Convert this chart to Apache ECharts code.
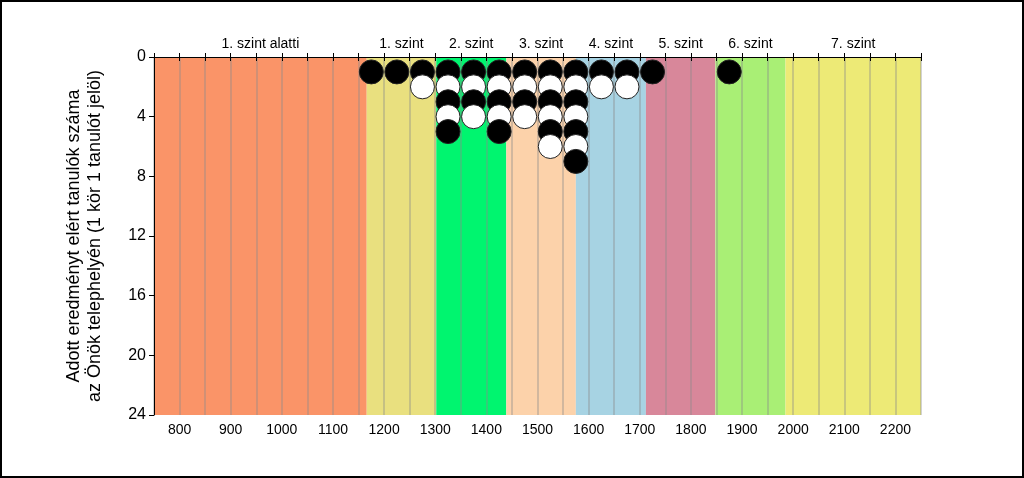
<!DOCTYPE html>
<html>
<head>
<meta charset="utf-8">
<script src="https://cdn.jsdelivr.net/npm/echarts@6/dist/echarts.min.js"></script>
<style>
  html, body { margin: 0; padding: 0; background: #fff; }
  #chart { width: 1024px; height: 478px; }
</style>
</head>
<body>
<div id="chart"></div>
<script>
// score bands (szintek)
const bandNames = ['1. szint alatti', '1. szint', '2. szint', '3. szint', '4. szint', '5. szint', '6. szint', '7. szint']
const bandEdges = [750, 1166, 1302, 1439, 1575, 1712, 1848, 1985, 2250]
const bandColors = ['#fa9468', '#e9e07f', '#00f56f', '#fcd2aa', '#a7d3e3', '#d8879a', '#a9ef75', '#edea76']

// one column of circles per score bin, count = number of students
const binCenters = [1175, 1225, 1275, 1325, 1375, 1425, 1475, 1525, 1575, 1625, 1675, 1725, 1875]
const binCounts = [1, 1, 2, 5, 4, 5, 4, 6, 7, 2, 2, 1, 1]

const bands = bandNames.map((name, i) => [bandEdges[i], bandEdges[i + 1], i])

const dots = []
binCenters.forEach((x, i) => {
  for (let k = 1; k <= binCounts[i]; k++) {
    dots.push({
      value: [x, k],
      itemStyle: { color: k % 2 === 1 ? '#000' : '#fff' }
    })
  }
})

const chart = echarts.init(document.getElementById('chart'))
const font = 'Liberation Sans, Arial, sans-serif'

chart.setOption({
  animation: false,
  textStyle: { fontFamily: font },
  grid: { left: 154, right: 103, top: 57, bottom: 63 },
  graphic: [{
    type: 'rect',
    shape: { x: 1, y: 1, width: 1022, height: 476 },
    style: { fill: 'none', stroke: '#000', lineWidth: 2 },
    silent: true
  }],
  xAxis: [{
    type: 'value',
    min: 750,
    max: 2250,
    interval: 50,
    z: 1,
    axisLine: { lineStyle: { color: '#000' } },
    axisTick: { length: 4, lineStyle: { color: '#000' } },
    axisLabel: {
      color: '#000',
      fontSize: 14,
      margin: 8,
      formatter: v => (v % 100 === 0 ? String(v) : '')
    },
    splitLine: { show: true, lineStyle: { color: 'rgba(140,140,140,0.5)', width: 1.5 } }
  }, {
    type: 'value',
    position: 'top',
    min: 750,
    max: 2250,
    interval: 50,
    z: 1,
    axisLine: { onZero: false, lineStyle: { color: '#000' } },
    axisTick: { length: 4, lineStyle: { color: '#000' } },
    axisLabel: { show: false },
    splitLine: { show: false }
  }],
  yAxis: {
    type: 'value',
    inverse: true,
    min: 0,
    max: 24,
    interval: 4,
    z: 1,
    axisLine: { show: true, lineStyle: { color: '#000' } },
    axisTick: { show: true, length: 5, lineStyle: { color: '#000' } },
    axisLabel: { color: '#000', fontSize: 16, margin: 8 },
    splitLine: { show: false },
    name: 'Adott eredményt elért tanulók száma\naz Önök telephelyén (1 kör 1 tanulót jelöl)',
    nameLocation: 'middle',
    nameGap: 48,
    nameTextStyle: { color: '#000', fontSize: 18, lineHeight: 21 }
  },
  series: [{
    type: 'custom',
    z: 0,
    silent: true,
    data: bands,
    renderItem: (params, api) => {
      const p0 = api.coord([api.value(0), 0])
      const p1 = api.coord([api.value(1), 24])
      const idx = api.value(2)
      return {
        type: 'group',
        children: [{
          type: 'rect',
          shape: { x: p0[0], y: p0[1], width: p1[0] - p0[0], height: p1[1] - p0[1] },
          style: { fill: bandColors[idx] }
        }, {
          type: 'text',
          x: (p0[0] + p1[0]) / 2,
          y: p0[1] - 6,
          style: {
            text: bandNames[idx],
            fill: '#000',
            font: '14px ' + font,
            align: 'center',
            verticalAlign: 'bottom'
          }
        }]
      }
    }
  }, {
    type: 'scatter',
    z: 3,
    symbol: 'circle',
    symbolSize: 24,
    itemStyle: { borderColor: '#222', borderWidth: 1, opacity: 1 },
    data: dots
  }]
})
</script>
</body>
</html>
